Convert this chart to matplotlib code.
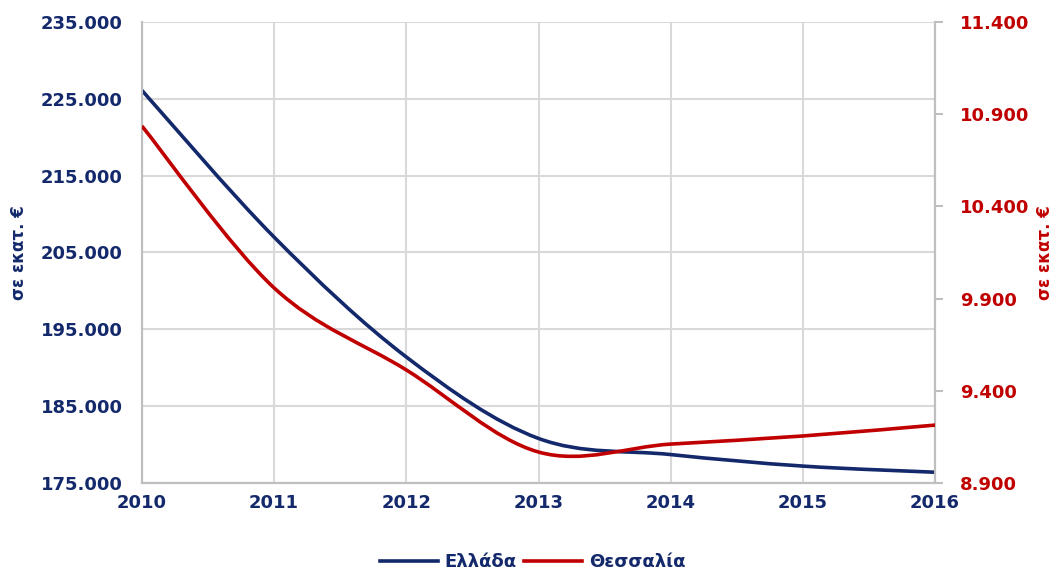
import matplotlib.pyplot as plt
import numpy as np
from matplotlib.path import Path
from matplotlib.patches import PathPatch
from matplotlib.ticker import FuncFormatter
from matplotlib.lines import Line2D

years = [2010, 2011, 2012, 2013, 2014, 2015, 2016]
ellada = [226100, 207000, 191400, 180800, 178700, 177200, 176400]
thessalia = [10836, 9958, 9513, 9068, 9111, 9155, 9214]

navy = '#13296B'
red = '#C00000'
grid_c = '#D9D9D9'

plt.rcParams['font.family'] = 'DejaVu Sans'
plt.rcParams['font.weight'] = 'bold'


def smooth_path(x, y, t=1/6):
    # Excel-like smoothed line: Catmull-Rom segments as cubic Bezier curves
    x = np.asarray(x, float)
    y = np.asarray(y, float)
    n = len(x)
    verts = [(x[0], y[0])]
    codes = [Path.MOVETO]
    for i in range(n - 1):
        p0 = i - 1 if i > 0 else i
        p3 = i + 2 if i + 2 < n else i + 1
        c1 = (x[i] + (x[i + 1] - x[p0]) * t, y[i] + (y[i + 1] - y[p0]) * t)
        c2 = (x[i + 1] - (x[p3] - x[i]) * t, y[i + 1] - (y[p3] - y[i]) * t)
        verts += [c1, c2, (x[i + 1], y[i + 1])]
        codes += [Path.CURVE4] * 3
    return Path(verts, codes)


def thousands(v, pos):
    return f'{int(round(v)):,}'.replace(',', '.')


fig = plt.figure(figsize=(10.59, 5.72), dpi=100)
ax = fig.add_axes([0.134, 0.1556, 0.749, 0.806])
ax2 = ax.twinx()

ax.add_patch(PathPatch(smooth_path(years, ellada), fill=False, edgecolor=navy, lw=2.6, zorder=3))
ax2.add_patch(PathPatch(smooth_path(years, thessalia), fill=False, edgecolor=red, lw=2.6, zorder=3))

ax.set_xlim(2010, 2016)
ax.set_ylim(175000, 235000)
ax.set_yticks(np.arange(175000, 235001, 10000))
ax2.set_ylim(8900, 11400)
ax2.set_yticks(np.arange(8900, 11401, 500))
ax.set_xticks(years)

ax.yaxis.set_major_formatter(FuncFormatter(thousands))
ax2.yaxis.set_major_formatter(FuncFormatter(thousands))

ax.grid(True, color=grid_c, lw=1.5)
ax.set_axisbelow(True)

for a in (ax, ax2):
    for s in a.spines.values():
        s.set_color('#BFBFBF')
        s.set_linewidth(1.5)
    a.spines['top'].set_visible(False)

ax.tick_params(axis='y', length=0, labelsize=13, labelcolor=navy, pad=14)
ax.tick_params(axis='x', length=0, labelsize=13, labelcolor=navy, pad=8)
ax2.tick_params(axis='y', length=6, width=1.5, color='#BFBFBF', labelsize=13, labelcolor=red, pad=12)

ax.set_ylabel('σε εκατ. €', color=navy, fontsize=12, fontweight='bold', labelpad=9)
ax2.set_ylabel('σε εκατ. €', color=red, fontsize=12, fontweight='bold', labelpad=5)

handles = [Line2D([], [], color=navy, lw=2.6), Line2D([], [], color=red, lw=2.6)]
leg = fig.legend(handles, ['Ελλάδα', 'Θεσσαλία'], loc='lower center', ncol=2,
                 bbox_to_anchor=(0.503, -0.027), frameon=False, fontsize=13,
                 handlelength=3.2, columnspacing=0.4, handletextpad=0.4)
for txt in leg.get_texts():
    txt.set_color(navy)

fig.savefig('out.png', dpi=100)
